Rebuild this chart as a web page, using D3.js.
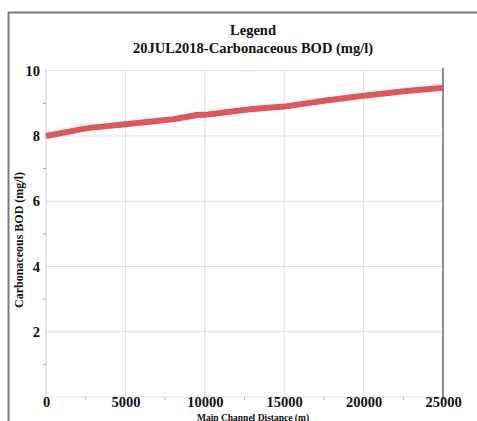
<!DOCTYPE html>
<html>
<head>
<meta charset="utf-8">
<script src="https://cdn.jsdelivr.net/npm/d3@7"></script>
<style>
  html, body { margin: 0; padding: 0; background: #fff; }
  svg { display: block; }
  text { font-family: "Liberation Serif", "Times New Roman", serif; font-weight: bold; fill: #111; }
</style>
</head>
<body>
<svg id="chart" width="477" height="421"></svg>
<script>
// Main channel distance (m) and carbonaceous BOD (mg/l) along the reach
const distance = [0, 2600, 5000, 8000, 9500, 10200, 12200, 12850, 15000, 17500, 20000, 22700, 25000];
const bod      = [8.00, 8.24, 8.36, 8.51, 8.64, 8.66, 8.78, 8.82, 8.90, 9.08, 9.23, 9.38, 9.48];

const xTicks = [0, 5000, 10000, 15000, 20000, 25000];
const yTicks = [2, 4, 6, 8, 10];
const xMinor = [2500, 7500, 12500, 17500, 22500];
const yMinor = [1, 3, 5, 7, 9];

const titleLines = ["Legend", "20JUL2018-Carbonaceous BOD (mg/l)"];
const xTitle = "Main Channel Distance (m)";
const yTitle = "Carbonaceous BOD (mg/l)";

const svg = d3.select("#chart");
const plot = { left: 46, right: 443, top: 70.7, bottom: 397 };

const x = d3.scaleLinear().domain([0, 25000]).range([plot.left, plot.right]);
const y = d3.scaleLinear().domain([0, 10]).range([plot.bottom, plot.top]);

// outer frame (top and left edges visible)
svg.append("path")
  .attr("d", "M8.5,421 V12.5 H477")
  .attr("fill", "none").attr("stroke", "#7a7a7a").attr("stroke-width", 2);

// titles
svg.selectAll("text.title").data(titleLines).join("text")
  .attr("class", "title")
  .attr("x", 253).attr("y", (d, i) => 35 + i * 18)
  .attr("text-anchor", "middle")
  .style("font-size", "14.5px")
  .text(d => d);

// grid
const grid = svg.append("g");
grid.selectAll("line.h").data([0].concat(yTicks)).join("line")
  .attr("x1", plot.left).attr("x2", plot.right)
  .attr("y1", d => y(d)).attr("y2", d => y(d))
  .attr("stroke", "#dedede").attr("stroke-width", 1);
grid.selectAll("line.v").data(xTicks.slice(1, -1)).join("line")
  .attr("y1", plot.top).attr("y2", plot.bottom)
  .attr("x1", d => x(d)).attr("x2", d => x(d))
  .attr("stroke", "#dedede").attr("stroke-width", 1);

// left axis line (light) and right axis line (dark)
svg.append("line")
  .attr("x1", plot.left).attr("x2", plot.left).attr("y1", plot.top - 2).attr("y2", plot.bottom)
  .attr("stroke", "#cfcfcf");
svg.append("line")
  .attr("x1", plot.right).attr("x2", plot.right).attr("y1", plot.top - 3).attr("y2", plot.bottom + 3)
  .attr("stroke", "#6a6a6a").attr("stroke-width", 1.5);

// minor ticks
svg.selectAll("line.ym").data(yMinor).join("line")
  .attr("x1", plot.left - 3).attr("x2", plot.left)
  .attr("y1", d => y(d)).attr("y2", d => y(d))
  .attr("stroke", "#aaa");
svg.selectAll("line.xm").data(xMinor).join("line")
  .attr("y1", plot.bottom).attr("y2", plot.bottom + 3)
  .attr("x1", d => x(d)).attr("x2", d => x(d))
  .attr("stroke", "#bbb");

// axes via d3
const yAxis = svg.append("g")
  .attr("transform", `translate(${plot.left},0)`)
  .call(d3.axisLeft(y).tickValues(yTicks).tickSize(0).tickPadding(6));
const xAxis = svg.append("g")
  .attr("transform", `translate(0,${plot.bottom})`)
  .call(d3.axisBottom(x).tickValues(xTicks).tickFormat(d3.format("d")).tickSize(0).tickPadding(0));
[yAxis, xAxis].forEach(g => {
  g.select(".domain").remove();
  g.selectAll("text")
    .style("font-family", '"Liberation Serif", "Times New Roman", serif')
    .style("font-weight", "bold")
    .style("font-size", "14.5px")
    .attr("fill", "#111");
});

// axis titles
svg.append("text")
  .attr("x", 253).attr("y", 420.5)
  .attr("text-anchor", "middle")
  .style("font-size", "9.5px")
  .text(xTitle);
svg.append("text")
  .attr("transform", "translate(23,240) rotate(-90)")
  .attr("text-anchor", "middle")
  .style("font-size", "12px")
  .text(yTitle);

// BOD profile
const line = d3.line().x((d, i) => x(distance[i])).y(d => y(d));
svg.append("path")
  .datum(bod)
  .attr("d", line)
  .attr("fill", "none")
  .attr("stroke", "#e0575b")
  .attr("stroke-width", 6)
  .attr("stroke-linejoin", "round");
</script>
</body>
</html>
